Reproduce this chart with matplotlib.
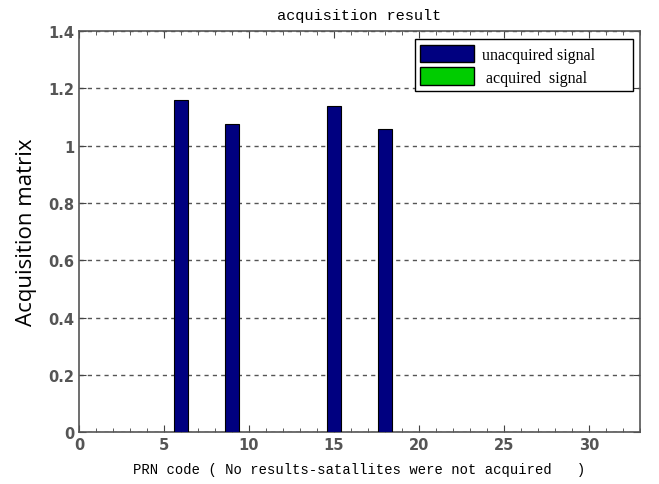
import numpy as np
import matplotlib.pyplot as plt
from matplotlib.patches import Patch
from matplotlib.ticker import MultipleLocator

# PRN codes with a correlation peak, and their acquisition metric
prn = [6, 9, 15, 18]
metric = [1.158, 1.075, 1.138, 1.057]
legend_labels = ["unacquired signal" + "\u00a0" * 8, " acquired  signal"]

fig = plt.figure(figsize=(6.59, 4.85), dpi=100)
ax = fig.add_axes([0.12, 0.107, 0.851, 0.827])

ax.bar(prn, metric, width=0.8, color="#000080", edgecolor="black", linewidth=0.8, zorder=3)

ax.set_xlim(0, 33)
ax.set_ylim(0, 1.4)
ax.set_xticks([0, 5, 10, 15, 20, 25, 30])
ax.set_yticks(np.arange(0, 1.41, 0.2))
ax.set_yticklabels(["0", "0.2", "0.4", "0.6", "0.8", "1", "1.2", "1.4"])
ax.xaxis.set_minor_locator(MultipleLocator(1))
ax.tick_params(which="both", direction="in", top=True, right=True, color="#444444")
ax.tick_params(which="major", length=5, labelsize=10.5, labelcolor="#555555")
ax.tick_params(which="minor", length=3)
for lab in ax.get_xticklabels() + ax.get_yticklabels():
    lab.set_fontweight("bold")
for s in ax.spines.values():
    s.set_color("#555555")
    s.set_linewidth(1.2)

ax.yaxis.grid(True, linestyle=(0, (3, 3)), color="#555555", linewidth=1.0, zorder=0)

ax.set_title("acquisition result", family="Liberation Mono", fontsize=11, pad=9)
ax.set_xlabel("PRN code ( No results-satallites were not acquired   )",
              family="Liberation Mono", fontsize=10, labelpad=7)
ax.set_ylabel("Acquisition matrix", family="Open Sans", fontsize=16, labelpad=8)

handles = [Patch(facecolor="#000080", edgecolor="black"),
           Patch(facecolor="#00cc00", edgecolor="black")]
leg = ax.legend(handles, legend_labels, loc="upper right", bbox_to_anchor=(0.988, 0.98),
                borderaxespad=0, prop={"family": "Liberation Serif", "size": 11.5},
                fancybox=False, framealpha=1, edgecolor="black", handlelength=3.4,
                handleheight=1.3, handletextpad=0.5, borderpad=0.35, labelspacing=0.3)
leg.get_frame().set_linewidth(1.0)

fig.savefig("out.png", dpi=100)
